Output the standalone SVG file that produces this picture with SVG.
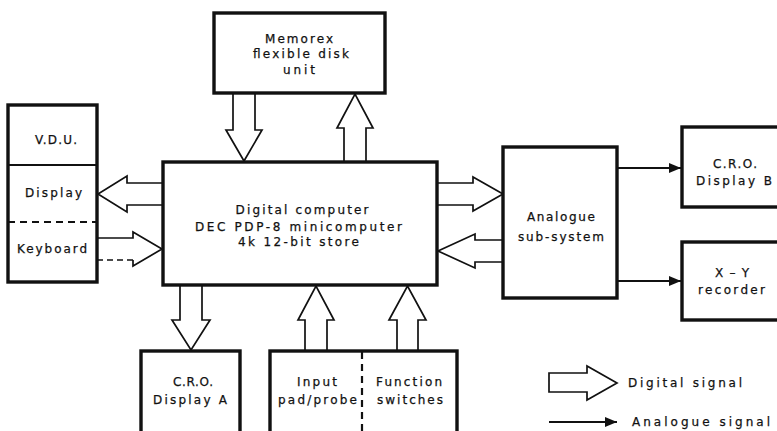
<svg xmlns="http://www.w3.org/2000/svg" width="777" height="431" viewBox="0 0 777 431">
<defs>
<marker id="ah" viewBox="0 0 12 10" refX="12" refY="5" markerWidth="12" markerHeight="10" markerUnits="userSpaceOnUse" orient="auto">
<path d="M0,0 L12,5 L0,10 Z" fill="#111"/>
</marker>
<style>
.box{fill:#fff;stroke:#111;stroke-width:3.4}
.div{fill:none;stroke:#111;stroke-width:2}
.dash{fill:none;stroke:#111;stroke-width:2.2;stroke-dasharray:7,5}
.ha{fill:#fff;stroke:#111;stroke-width:1.7;stroke-linejoin:miter}
.ln{fill:none;stroke:#111;stroke-width:1.7}
.sa{fill:none;stroke:#111;stroke-width:2.2;marker-end:url(#ah)}
text{font-family:"DejaVu Sans","Liberation Sans",sans-serif;font-size:12px;fill:#111;stroke:#111;stroke-width:0.25;text-anchor:middle}
</style>
</defs>
<rect width="777" height="431" fill="#fff"/>
<g id="connectors">
<polygon class="ha" points="233,93 233,130 226,130 244,161 262,130 255,130 255,93"/>
<polygon class="ha" points="344,162 344,128 337,128 355,94 373,128 366,128 366,162"/>
<polygon class="ha" points="163,183 127,183 127,176 98,194 127,212 127,205 163,205"/>
<polygon points="97,238 133,238 133,232 162,249 133,266 133,260 97,260" fill="#fff"/>
<polyline class="ln" points="97,238 133,238 133,232 162,249 133,266 133,260"/>
<line class="ln" x1="97" y1="260" x2="133" y2="260" stroke-dasharray="6,4"/>
<polygon class="ha" points="437,183 473,183 473,177 503,194 473,211 473,205 437,205"/>
<polygon class="ha" points="503,240 475,240 475,234 438,251 475,268 475,262 503,262"/>
<polygon class="ha" points="180,285 180,320 172,320 191,350 210,320 202,320 202,285"/>
<polygon class="ha" points="305,351 305,320 298,320 316,286 334,320 327,320 327,351"/>
<polygon class="ha" points="397,351 397,320 389,320 407.5,286 426,320 418,320 418,351"/>
<line class="sa" x1="617" y1="168" x2="681" y2="168"/>
<line class="sa" x1="617" y1="281" x2="681" y2="281"/>
</g>
<g id="computer">
<rect class="box" x="163" y="162" width="274" height="123"/>
<text x="302" y="214" textLength="133" lengthAdjust="spacing">Digital computer</text>
<text x="298.5" y="231" textLength="207" lengthAdjust="spacing">DEC PDP-8 minicomputer</text>
<text x="298.5" y="246" textLength="121" lengthAdjust="spacing">4k 12-bit store</text>
</g>
<g id="memorex">
<rect class="box" x="214" y="13" width="171" height="80"/>
<text x="299" y="43" textLength="68" lengthAdjust="spacing">Memorex</text>
<text x="301" y="58" textLength="96" lengthAdjust="spacing">flexible disk</text>
<text x="299" y="74" textLength="32" lengthAdjust="spacing">unit</text>
</g>
<g id="vdu">
<rect class="box" x="8" y="105" width="89" height="177"/>
<line class="div" x1="8" y1="165" x2="97" y2="165"/>
<line class="dash" x1="8" y1="222" x2="97" y2="222"/>
<text x="56" y="144" textLength="42" lengthAdjust="spacing">V.D.U.</text>
<text x="53.5" y="197" textLength="57" lengthAdjust="spacing">Display</text>
<text x="52" y="253" textLength="70" lengthAdjust="spacing">Keyboard</text>
</g>
<g id="analogue">
<rect class="box" x="503" y="147" width="114" height="151"/>
<text x="561" y="221" textLength="68" lengthAdjust="spacing">Analogue</text>
<text x="561" y="241" textLength="86" lengthAdjust="spacing">sub-system</text>
</g>
<g id="cro-b">
<rect class="box" x="682" y="127" width="110" height="80"/>
<text x="735" y="168" textLength="44" lengthAdjust="spacing">C.R.O.</text>
<text x="734" y="185" textLength="76" lengthAdjust="spacing">Display  B</text>
</g>
<g id="xy">
<rect class="box" x="682" y="242" width="110" height="78"/>
<text x="732" y="277" textLength="34" lengthAdjust="spacing">X – Y</text>
<text x="731.5" y="294" textLength="67" lengthAdjust="spacing">recorder</text>
</g>
<g id="cro-a">
<rect class="box" x="141" y="351" width="99" height="95"/>
<text x="193" y="386" textLength="40" lengthAdjust="spacing">C.R.O.</text>
<text x="190" y="404" textLength="74" lengthAdjust="spacing">Display  A</text>
</g>
<g id="inputs">
<rect class="box" x="270" y="351" width="187" height="95"/>
<line class="dash" x1="362" y1="352" x2="362" y2="431" stroke-dasharray="9,5"/>
<text x="317" y="386" textLength="40" lengthAdjust="spacing">Input</text>
<text x="317.5" y="404" textLength="79" lengthAdjust="spacing">pad/probe</text>
<text x="409" y="386" textLength="66" lengthAdjust="spacing">Function</text>
<text x="410" y="404" textLength="66" lengthAdjust="spacing">switches</text>
</g>
<g id="legend">
<polygon class="ha" points="549,373 587,373 587,366 617,383 587,400 587,392 549,392"/>
<text x="685" y="387" textLength="114" lengthAdjust="spacing">Digital signal</text>
<line class="sa" x1="549" y1="422" x2="617" y2="422"/>
<text x="701" y="426" textLength="138" lengthAdjust="spacing">Analogue signal</text>
</g>
</svg>
